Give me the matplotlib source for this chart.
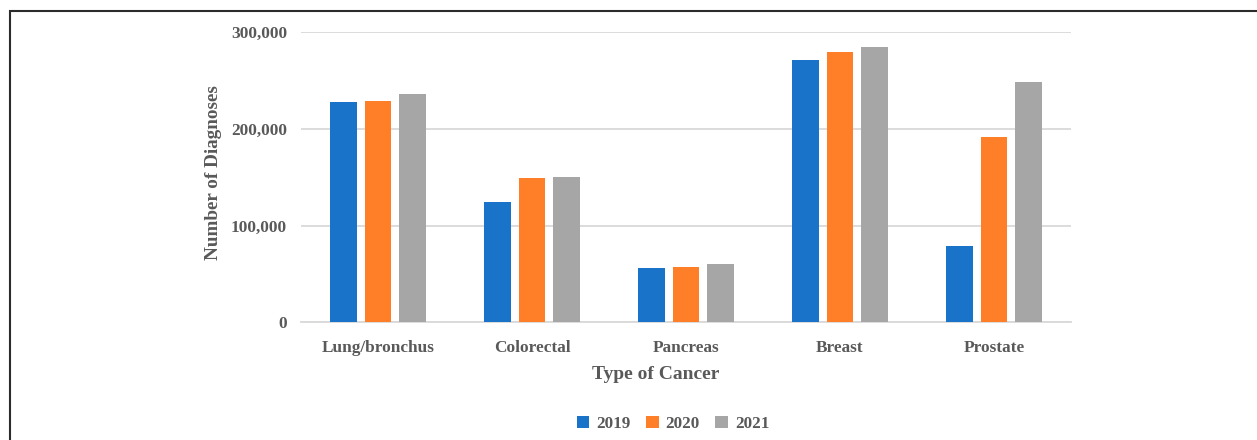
import numpy as np
import matplotlib
matplotlib.use('Agg')
import matplotlib.pyplot as plt
from matplotlib.patches import Rectangle
from matplotlib.ticker import FuncFormatter

# Datos del grafico
categories = ['Lung/bronchus', 'Colorectal', 'Pancreas', 'Breast', 'Prostate']
years = ['2019', '2020', '2021']
values_2019 = [227700, 123900, 56400, 271000, 78800]
values_2020 = [228700, 148800, 57400, 279300, 191500]
values_2021 = [235900, 149800, 60500, 284500, 248300]
colors = ['#1873c9', '#fe7f27', '#a6a6a6']

text_color = '#595959'
plt.rcParams['font.family'] = ['Liberation Serif', 'DejaVu Serif']
plt.rcParams['font.weight'] = 'bold'

fig = plt.figure(figsize=(12.57, 4.4), dpi=100)
ax = fig.add_axes([301 / 1257, 1 - 322.3 / 440, 770 / 1257, 290.3 / 440])

x = np.arange(len(categories))
width = 0.175
step = 0.221
series = [values_2019, values_2020, values_2021]
for i, (vals, col, yr) in enumerate(zip(series, colors, years)):
    ax.bar(x + (i - 1) * step, vals, width, color=col, label=yr, zorder=3)

ax.set_xlim(-0.5, len(categories) - 0.5)
ax.set_ylim(0, 300000)
ax.set_yticks([0, 100000, 200000, 300000])
ax.yaxis.set_major_formatter(FuncFormatter(lambda v, p: f'{int(v):,}'))
ax.set_xticks(x)
ax.set_xticklabels(categories)

ax.grid(axis='y', color='#d9d9d9', linewidth=1.3, zorder=0)
for s in ['top', 'right', 'left']:
    ax.spines[s].set_visible(False)
ax.spines['bottom'].set_color('#d9d9d9')
ax.spines['bottom'].set_linewidth(1.3)
ax.tick_params(axis='both', length=0, labelsize=12.4, colors=text_color)
ax.tick_params(axis='x', pad=12.5)
ax.tick_params(axis='y', pad=10)

ax.set_xlabel('Type of Cancer', fontsize=14, color=text_color, fontweight='bold')
ax.xaxis.set_label_coords(0.461, -0.15)
ax.set_ylabel('Number of Diagnoses', fontsize=13.8, color=text_color, fontweight='bold')
ax.yaxis.set_label_coords(-0.1026, 0.515)

handles, labels = ax.get_legend_handles_labels()
fig.legend(handles, labels, loc='center', bbox_to_anchor=(673 / 1257, 1 - 424 / 440),
           ncol=3, frameon=False, fontsize=12.3, handlelength=0.75, handleheight=0.75,
           handletextpad=0.4, columnspacing=0.9, labelcolor=text_color)

# Borde exterior (cortado a la derecha y abajo)
fig.patches.append(Rectangle((10 / 1257, -0.05), 1.1, 1 - 11 / 440 + 0.05,
                             transform=fig.transFigure, fill=False,
                             edgecolor='#2b2b2b', linewidth=1.5, clip_on=False))

fig.savefig('out.png', dpi=100)
